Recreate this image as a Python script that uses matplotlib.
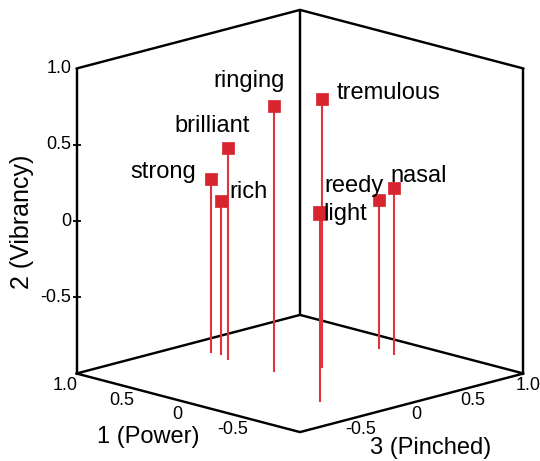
import numpy as np
import matplotlib
matplotlib.use('Agg')
import matplotlib.pyplot as plt
from mpl_toolkits.mplot3d import proj3d

plt.rcParams['font.family'] = ['Liberation Sans', 'DejaVu Sans']

# dimension scores of the timbre words
words = ['ringing', 'tremulous', 'brilliant', 'strong', 'rich', 'light', 'reedy', 'nasal']
power = [0.15, 0.01, 0.57, 0.77, 0.69, -0.56, 0.08, -0.09]
pinched = [-0.08, 0.21, -0.07, -0.03, -0.02, -0.38, 0.79, 0.75]
vibrancy = [0.74, 0.76, 0.38, 0.13, 0.00, 0.23, -0.03, 0.09]

tick_vals = [-0.5, 0.0, 0.5, 1.0]
tick_text = ['-0.5', '0', '0.5', '1.0']

# where each word label sits next to its marker (pixels, y down)
label_dx = [10, 14, 21, -14, 9, 3, 4, -3]
label_dy = [-19, 0, -16, -1, -3, 7, -8, -6]
label_ha = ['right', 'left', 'right', 'right', 'left', 'left', 'right', 'left']

W, H = 540, 461
red = '#d6252e'
stem_red = '#e2323c'

fig = plt.figure(figsize=(W / 100, H / 100), dpi=100)
side = 500
ax = fig.add_axes([(W - side) / 2 / W, (H - side) / 2 / H, side / W, side / H], projection='3d')
ax.set_proj_type('ortho')
ax.view_init(elev=15.2, azim=-135)
ax.set_xlim(-1, 1)
ax.set_ylim(-1, 1)
ax.set_zlim(-1, 1)
ax.set_box_aspect((1, 1, 1))
ax.set_axis_off()
ax.computed_zorder = False


def proj(x, y, z):
    x2, y2, _ = proj3d.proj_transform(np.array([x]), np.array([y]), np.array([z]), ax.get_proj())
    return x2[0], y2[0]


def px(x, y, z):
    return ax.transData.transform(proj(x, y, z))


# fit the cube: 1 unit of vibrancy = 152.5 px, centre of cube at (300, 221)
fig.canvas.draw()
c = px(0, 0, 0)
t = px(0, 0, 1)
ax.set_box_aspect((1, 1, 1), zoom=152.5 / (t[1] - c[1]))
fig.canvas.draw()
c = px(0, 0, 0)
pos = ax.get_position()
ax.set_position([pos.x0 + (300 - c[0]) / W, pos.y0 + (H - 221 - c[1]) / H, pos.width, pos.height])


def label(s, x, y, z, dx, dy, **kw):
    ax.annotate(s, xy=proj(x, y, z), xycoords='data', xytext=(dx, -dy),
                textcoords='offset pixels', annotation_clip=False, **kw)


# x = pinched, y = power, z = vibrancy
box = dict(color='black', lw=1.75, zorder=1, clip_on=False, solid_capstyle='round')
ax.plot([-1, 1, 1, -1, -1], [1, 1, -1, -1, 1], [-1, -1, -1, -1, -1], **box)
ax.plot([-1, 1, 1], [1, 1, -1], [1, 1, 1], **box)
for q, p in [(-1, 1), (1, 1), (1, -1)]:
    ax.plot([q, q], [p, p], [-1, 1], **box)

# vertical ticks
ax.plot([-1] * 3, [1] * 3, tick_vals[:3], ls='none', marker='_', ms=6, mew=1.3,
        color='black', clip_on=False, zorder=1)

for i, w in enumerate(words):
    q, p, v = pinched[i], power[i], vibrancy[i]
    ax.plot([q, q], [p, p], [-1, v], color=stem_red, lw=1.5, zorder=2, clip_on=False)
    ms = 9.6 if p + q < -0.5 else 8.3
    ax.plot([q], [p], [v], ls='none', marker='s', ms=ms, mew=0.5, mec=red, color=red,
            zorder=3, clip_on=False)
    label(w, q, p, v, label_dx[i], label_dy[i], ha=label_ha[i], va='baseline', fontsize=17)

for val, lab in zip(tick_vals, tick_text):
    label(lab, -1, 1, val, -5, 0, ha='right', va='center', fontsize=13)
    label(lab, -1, val, -1, -11, 12, ha='center', va='center', fontsize=13)
    label(lab, val, -1, -1, 5, 12, ha='center', va='center', fontsize=13)

fig.text(22 / W, 1 - 222 / H, '2 (Vibrancy)', rotation=90, ha='center', va='center', fontsize=18)
fig.text(148 / W, 1 - 437 / H, '1 (Power)', ha='center', va='center', fontsize=17)
fig.text(431 / W, 1 - 448 / H, '3 (Pinched)', ha='center', va='center', fontsize=17)

fig.savefig('out.png', dpi=100)
